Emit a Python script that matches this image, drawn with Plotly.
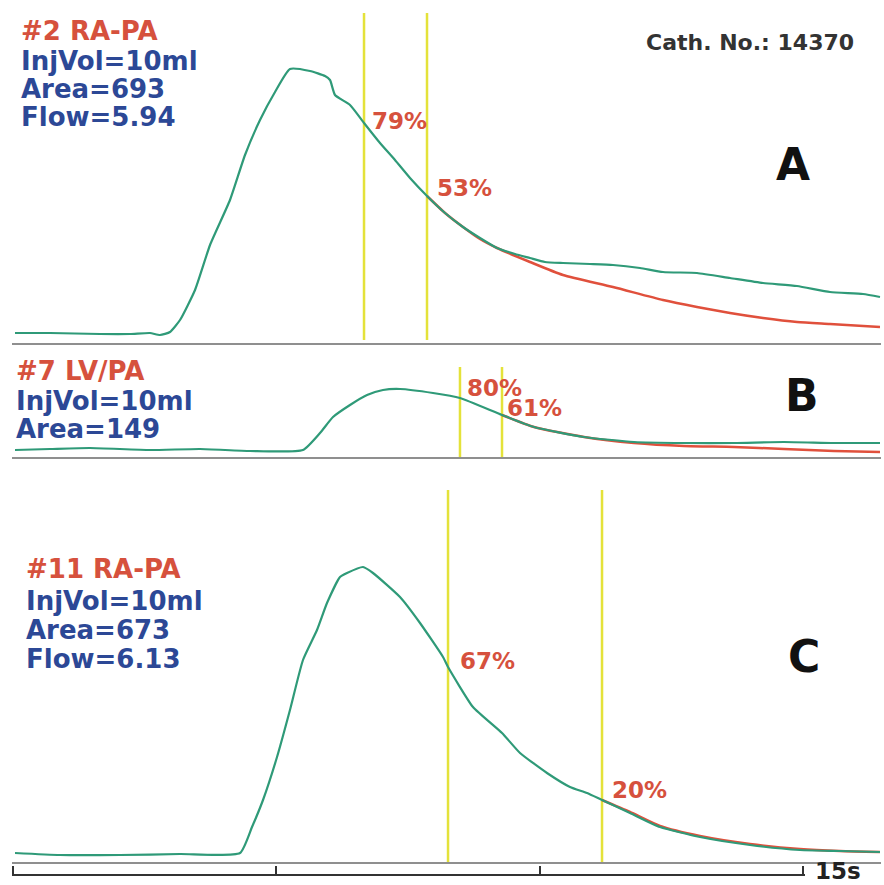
import plotly.graph_objects as go

W, H = 884, 885

# ---------------- data (time in s, indicator signal in arbitrary units above baseline) -------------
# Panel A  (#2 RA-PA)
tA = [0.038, 0.703, 1.652, 2.222, 2.601, 2.791, 2.981, 3.171, 3.456, 3.741,
      4.120, 4.405, 4.690, 4.975, 5.259, 5.639, 5.924, 6.019, 6.114, 6.399,
      6.665, 6.968, 7.253, 7.538, 7.861, 8.203, 8.544, 8.867, 9.190, 9.532,
      9.816, 10.101, 10.443, 10.956, 11.392, 11.905, 12.342, 12.987, 13.614, 14.241,
      14.886, 15.513, 16.139, 16.462]
sigA = [10, 10, 9, 9, 10, 8, 11, 23, 53, 98,
        143, 188, 223, 251, 274, 272, 267, 263, 248, 238,
        220, 200, 183, 165, 147, 130, 116, 105, 95, 89,
        85, 81, 80, 79, 78, 75, 71, 70, 65, 60,
        57, 51, 49, 46]
tA_fit = [7.861, 8.203, 8.544, 8.867, 9.190, 9.816, 10.443, 11.392, 12.342, 12.987,
          13.614, 14.241, 14.886, 15.513, 16.462]
fitA = [147, 130, 116, 104, 95, 81, 68, 56, 43, 36, 30, 25, 21, 19, 16]
markA = [6.665, 7.861]
pctA = ["79%", "53%"]

# Panel B  (#7 LV/PA)
tB = [0.038, 0.703, 1.462, 2.601, 3.551, 4.500, 5.506, 5.829, 6.076, 6.399,
      6.722, 7.025, 7.348, 7.975, 8.487, 9.285, 9.892, 10.842, 11.791, 12.740,
      13.690, 14.639, 15.589, 16.462]
sigB = [7, 8, 9, 7, 8, 6, 7, 24, 40, 52,
        62, 67, 68, 64, 59, 42, 30, 20, 15, 14,
        14, 15, 14, 14]
tB_fit = [9.285, 9.892, 10.842, 11.791, 12.740, 13.690, 14.639, 15.589, 16.462]
fitB = [42, 30, 20, 14, 11, 10, 8, 6, 5]
markB = [8.487, 9.285]
pctB = ["80%", "61%"]

# Panel C  (#11 RA-PA)
tC = [0.038, 0.892, 2.032, 3.171, 4.310, 4.538, 4.747, 5.013, 5.259, 5.506,
      5.772, 5.962, 6.209, 6.342, 6.646, 6.835, 7.348, 7.728, 8.165, 8.260,
      8.734, 9.285, 9.627, 10.139, 10.576, 10.899, 11.184, 11.715, 12.285, 13.044,
      13.994, 14.943, 15.703, 16.462]
sigC = [9, 7, 7, 8, 9, 35, 62, 105, 152, 202,
        232, 259, 285, 289, 295, 289, 265, 239, 205, 195,
        155, 129, 109, 89, 75, 69, 62, 49, 35, 25,
        17, 12, 11, 10]
tC_fit = [11.184, 11.715, 12.285, 13.044, 13.994, 14.943, 15.703, 16.462]
fitC = [62, 50, 36, 26, 18, 13, 11, 10]
markC = [8.260, 11.184]
pctC = ["67%", "20%"]

scale_ticks = [0, 5, 10, 15]
scale_label = "15s"

# ---------------- styles -------------
GREEN = "#2f9a78"
RED = "#e0503c"
YELLOW = "#e4e23a"
GRAY = "#8f8f8f"
TXT_RED = "#d6513d"
TXT_BLUE = "#2c4896"
FONT = "DejaVu Sans"

S = 790 / 15.0          # px per second
x0 = -1 / S
x1 = 868 / S

fig = go.Figure()

panels = [
    ("x", "y", tA, sigA, tA_fit, fitA, markA, (3, 330)),
    ("x2", "y2", tB, sigB, tB_fit, fitB, markB, (0, 90)),
    ("x3", "y3", tC, sigC, tC_fit, fitC, markC, (0, 372)),
]

for xa, ya, t, s, tf, f, marks, (lo, hi) in panels:
    mx, my = [], []
    for m in marks:
        mx += [m, m, None]
        my += [lo, hi, None]
    fig.add_trace(go.Scatter(x=mx, y=my, mode="lines", xaxis=xa, yaxis=ya,
                             line=dict(color=YELLOW, width=2.5), hoverinfo="skip",
                             showlegend=False))
    fig.add_trace(go.Scatter(x=tf, y=f, mode="lines", xaxis=xa, yaxis=ya,
                             line=dict(color=RED, width=2.5, shape="spline", smoothing=0.6),
                             hoverinfo="skip", showlegend=False))
    fig.add_trace(go.Scatter(x=t, y=s, mode="lines", xaxis=xa, yaxis=ya,
                             line=dict(color=GREEN, width=2.2, shape="spline", smoothing=0.5),
                             hoverinfo="skip", showlegend=False))

# time scale bar axis carrier
fig.add_trace(go.Scatter(x=[scale_ticks[0], scale_ticks[-1]], y=[0, 0], mode="markers",
                         xaxis="x4", yaxis="y3", marker=dict(opacity=0),
                         hoverinfo="skip", showlegend=False))


def ydom(bottom_px, top_px):
    return [(H - bottom_px) / H, (H - top_px) / H]


xdom = [12 / W, 881 / W]
xcommon = dict(range=[x0, x1], domain=xdom, showgrid=False, zeroline=False,
               showticklabels=False, ticks="", showline=True, linecolor=GRAY,
               linewidth=2, fixedrange=True)
ycommon = dict(showgrid=False, zeroline=False, showticklabels=False, ticks="",
               showline=False, fixedrange=True)

pad = 1.5  # px of slack so the end ticks are drawn
fig.update_layout(
    width=W, height=H,
    margin=dict(l=0, r=0, t=0, b=0),
    paper_bgcolor="white", plot_bgcolor="rgba(0,0,0,0)",
    xaxis=dict(anchor="y", **xcommon),
    xaxis2=dict(anchor="y2", **xcommon),
    xaxis3=dict(anchor="y3", **xcommon),
    yaxis=dict(anchor="x", domain=ydom(343, 5), range=[0, 338], **ycommon),
    yaxis2=dict(anchor="x2", domain=ydom(457, 345), range=[0, 112], **ycommon),
    yaxis3=dict(anchor="x3", domain=ydom(862, 470), range=[0, 392], **ycommon),
    xaxis4=dict(anchor="free", position=(H - 875) / H,
                domain=[(13 - pad) / W, (803 + pad) / W],
                range=[scale_ticks[0] - pad / S, scale_ticks[-1] + pad / S],
                tickvals=scale_ticks,
                ticks="inside", ticklen=8, tickwidth=2, tickcolor="#333333",
                showticklabels=False, showline=True, linecolor="#333333",
                linewidth=2, showgrid=False, zeroline=False, fixedrange=True),
    showlegend=False,
)


def ann(text, x, y, size, color, xanchor="left"):
    return dict(text=text, x=x / W, y=1 - y / H, xref="paper", yref="paper",
                xanchor=xanchor, yanchor="middle", showarrow=False,
                font=dict(family=FONT, size=size, color=color, weight="bold"))


LBL = 26
PCT = 23
BIG = 44
annotations = [
    ann("#2 RA-PA", 19, 31, LBL, TXT_RED),
    ann("InjVol=10ml", 19, 61, LBL, TXT_BLUE),
    ann("Area=693", 19, 89, LBL, TXT_BLUE),
    ann("Flow=5.94", 19, 117, LBL, TXT_BLUE),
    ann(pctA[0], 370, 121, PCT, TXT_RED),
    ann(pctA[1], 435, 188, PCT, TXT_RED),
    ann("Cath. No.: 14370", 644, 43, 22, "#333333"),
    ann("A", 793, 165, BIG, "#111111", "center"),

    ann("#7 LV/PA", 14, 371, LBL, TXT_RED),
    ann("InjVol=10ml", 14, 401, LBL, TXT_BLUE),
    ann("Area=149", 14, 429, LBL, TXT_BLUE),
    ann(pctB[0], 465, 388, PCT, TXT_RED),
    ann(pctB[1], 505, 408, PCT, TXT_RED),
    ann("B", 802, 395, BIG, "#111111", "center"),

    ann("#11 RA-PA", 24, 569, LBL, TXT_RED),
    ann("InjVol=10ml", 24, 601, LBL, TXT_BLUE),
    ann("Area=673", 24, 630, LBL, TXT_BLUE),
    ann("Flow=6.13", 24, 659, LBL, TXT_BLUE),
    ann(pctC[0], 458, 661, PCT, TXT_RED),
    ann(pctC[1], 610, 790, PCT, TXT_RED),
    ann("C", 804, 656, BIG, "#111111", "center"),

    ann(scale_label, 813, 871, 23, "#222222"),
]
fig.update_layout(annotations=annotations)

fig.write_html("out.html", config={"displayModeBar": False})
